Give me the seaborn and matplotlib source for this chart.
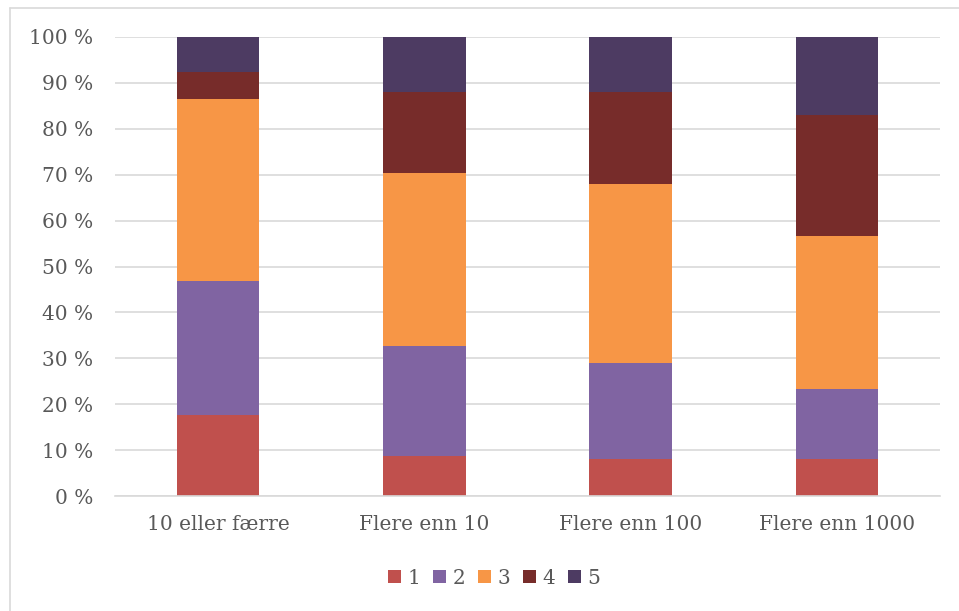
import matplotlib
matplotlib.use("Agg")
import matplotlib.pyplot as plt
import seaborn as sns
import pandas as pd
import numpy as np
from matplotlib.patches import Patch
from matplotlib.lines import Line2D
from matplotlib.ticker import FuncFormatter

categories = ["10 eller færre", "Flere enn 10", "Flere enn 100", "Flere enn 1000"]
series_names = ["1", "2", "3", "4", "5"]
s1 = [17.6, 8.7, 8.1, 8.1]
s2 = [29.2, 24.0, 20.9, 15.2]
s3 = [39.7, 37.7, 39.0, 33.3]
s4 = [5.9, 17.6, 20.0, 26.4]
s5 = [7.6, 12.0, 12.0, 17.0]
colors = ["#C0504D", "#8064A2", "#F79646", "#772C2A", "#4D3B62"]

sns.set_theme(style="white")
plt.rcParams['font.family'] = ['DejaVu Serif']

series = [s1, s2, s3, s4, s5]
cum = np.cumsum(np.array(series), axis=0)

W, H = 959, 611
fig = plt.figure(figsize=(W / 100, H / 100), dpi=100)
ax = fig.add_axes([115 / W, 1 - 496 / H, (940 - 115) / W, (496 - 37) / H])

for i in range(len(series) - 1, -1, -1):
    df = pd.DataFrame({"cat": categories, "val": cum[i]})
    sns.barplot(data=df, x="cat", y="val", color=colors[i], saturation=1,
                width=0.4, ax=ax, edgecolor="none", linewidth=0, zorder=2)

ax.set_ylim(0, 100)
ax.set_xlim(-0.5, 3.5)
ax.set_yticks(np.arange(0, 101, 10))
ax.yaxis.set_major_formatter(FuncFormatter(lambda v, p: f"{int(v)} %"))
ax.grid(axis="y", color="#D9D9D9", linewidth=1.2, zorder=0)
ax.set_axisbelow(True)
for s in ["top", "right", "left"]:
    ax.spines[s].set_visible(False)
ax.spines["bottom"].set_color("#D9D9D9")
ax.spines["bottom"].set_linewidth(1.2)
ax.set_xlabel("")
ax.set_ylabel("")
ax.tick_params(axis="both", length=0, labelsize=14.5, labelcolor="#595959")
ax.tick_params(axis="x", pad=14)
ax.tick_params(axis="y", pad=15.5)

handles = [Patch(facecolor=c, edgecolor="none") for c in colors]
fig.legend(handles, series_names, loc="center", bbox_to_anchor=(494 / W, 1 - 578 / H),
           ncol=5, frameon=False, fontsize=14.5, handlelength=0.65, handleheight=0.65,
           handletextpad=0.3, columnspacing=0.65, labelcolor="#595959")

fig.add_artist(Line2D([10 / W, 10 / W], [0, 1 - 8 / H], transform=fig.transFigure,
                      color="#D9D9D9", linewidth=1.2))
fig.add_artist(Line2D([10 / W, 1], [1 - 8 / H, 1 - 8 / H], transform=fig.transFigure,
                      color="#D9D9D9", linewidth=1.2))

fig.savefig("out.png", dpi=100)
